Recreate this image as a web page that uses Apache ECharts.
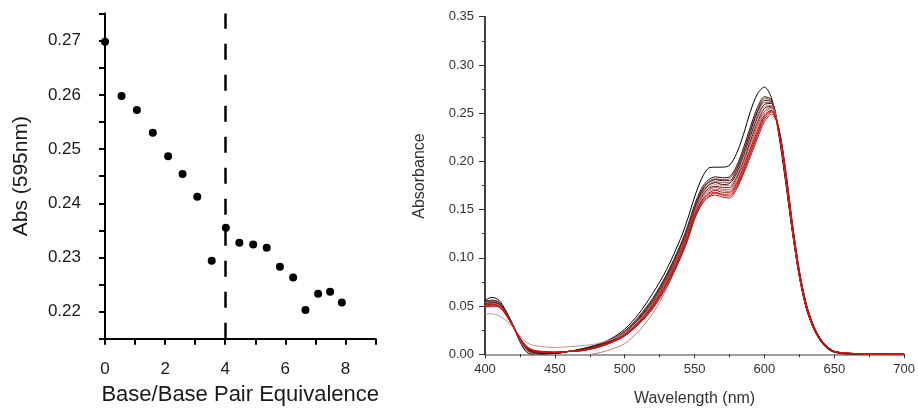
<!DOCTYPE html>
<html>
<head>
<meta charset="utf-8">
<script src="https://cdn.jsdelivr.net/npm/echarts@6/dist/echarts.min.js"></script>
<style>
html,body{margin:0;padding:0;background:#fff;}
#chart{width:918px;height:412px;}
</style>
</head>
<body>
<div id="chart"></div>
<script>
// ---- Left panel: Abs(595nm) vs equivalence ----
const equivalence = [0, 0.55, 1.06, 1.59, 2.1, 2.58, 3.07, 3.55, 4.02, 4.47, 4.93, 5.38, 5.82, 6.26, 6.67, 7.09, 7.49, 7.88];
const abs595 = [0.2698, 0.2598, 0.2572, 0.2530, 0.2487, 0.2454, 0.2412, 0.2294, 0.2355, 0.2327, 0.2324, 0.2318, 0.2283, 0.2263, 0.2203, 0.2233, 0.2237, 0.2217];
const equivalencePoint = 4;

// ---- Right panel: absorbance spectra ----
const wavelengths = [400,405,410,415,420,425,430,435,440,450,460,470,480,490,500,510,520,530,540,545,550,555,560,565,570,575,580,585,590,595,600,605,610,615,620,625,630,635,640,645,650,660,700];
const spec0  = [0.056,0.059,0.056,0.045,0.030,0.013,0.002,0.000,0.000,0.001,0.003,0.006,0.010,0.016,0.026,0.042,0.063,0.088,0.120,0.140,0.163,0.182,0.193,0.194,0.194,0.196,0.208,0.228,0.252,0.270,0.277,0.266,0.230,0.180,0.126,0.080,0.047,0.027,0.014,0.006,0.002,0.000,0.000];
const spec1  = [0.055,0.056,0.054,0.044,0.030,0.014,0.004,0.001,0.001,0.001,0.003,0.005,0.009,0.015,0.024,0.039,0.058,0.083,0.114,0.133,0.155,0.172,0.181,0.184,0.183,0.184,0.195,0.214,0.236,0.256,0.267,0.264,0.232,0.183,0.128,0.081,0.048,0.028,0.015,0.007,0.003,0.001,0.000];
const spec2  = [0.054,0.056,0.054,0.044,0.030,0.014,0.005,0.001,0.001,0.001,0.003,0.005,0.009,0.015,0.024,0.038,0.057,0.082,0.113,0.132,0.153,0.170,0.179,0.182,0.181,0.182,0.193,0.212,0.233,0.253,0.265,0.263,0.232,0.184,0.129,0.081,0.048,0.028,0.015,0.007,0.003,0.001,0.000];
const spec3  = [0.055,0.055,0.053,0.044,0.031,0.015,0.005,0.002,0.001,0.001,0.003,0.005,0.009,0.014,0.023,0.037,0.056,0.081,0.112,0.130,0.152,0.169,0.178,0.181,0.180,0.180,0.191,0.209,0.231,0.251,0.263,0.262,0.233,0.185,0.129,0.082,0.049,0.028,0.015,0.007,0.003,0.001,0.000];
const spec4  = [0.053,0.055,0.053,0.043,0.030,0.015,0.006,0.002,0.002,0.002,0.003,0.005,0.008,0.014,0.023,0.036,0.055,0.080,0.110,0.129,0.151,0.167,0.176,0.179,0.178,0.178,0.189,0.207,0.228,0.248,0.261,0.261,0.233,0.186,0.130,0.082,0.049,0.029,0.015,0.007,0.003,0.001,0.000];
const spec5  = [0.052,0.054,0.052,0.043,0.030,0.015,0.006,0.002,0.002,0.002,0.003,0.005,0.008,0.014,0.022,0.036,0.054,0.079,0.109,0.128,0.150,0.166,0.175,0.178,0.176,0.177,0.187,0.205,0.226,0.245,0.259,0.260,0.233,0.186,0.131,0.083,0.049,0.029,0.015,0.007,0.003,0.001,0.000];
const spec6  = [0.042,0.042,0.040,0.035,0.028,0.019,0.012,0.009,0.008,0.007,0.008,0.009,0.011,0.015,0.022,0.035,0.053,0.078,0.108,0.127,0.148,0.165,0.173,0.176,0.175,0.175,0.185,0.203,0.223,0.243,0.257,0.258,0.234,0.187,0.131,0.083,0.050,0.029,0.016,0.008,0.003,0.001,0.000];
const spec7  = [0.052,0.053,0.052,0.043,0.030,0.016,0.006,0.003,0.002,0.002,0.003,0.005,0.008,0.013,0.021,0.034,0.052,0.077,0.107,0.126,0.147,0.163,0.172,0.174,0.173,0.173,0.183,0.200,0.221,0.240,0.255,0.257,0.234,0.188,0.132,0.084,0.050,0.029,0.016,0.007,0.003,0.001,0.000];
const spec8  = [0.051,0.053,0.051,0.042,0.029,0.016,0.007,0.003,0.002,0.002,0.003,0.004,0.008,0.013,0.021,0.034,0.051,0.076,0.106,0.124,0.146,0.162,0.170,0.173,0.171,0.171,0.181,0.198,0.218,0.237,0.252,0.256,0.234,0.189,0.133,0.084,0.050,0.029,0.016,0.008,0.003,0.001,0.000];
const spec9  = [0.050,0.052,0.051,0.042,0.030,0.015,0.004,0.000,-0.001,-0.002,-0.002,-0.001,0.001,0.005,0.011,0.024,0.042,0.068,0.101,0.122,0.145,0.161,0.169,0.171,0.170,0.169,0.179,0.196,0.215,0.235,0.250,0.255,0.235,0.190,0.133,0.085,0.051,0.030,0.016,0.008,0.003,0.001,0.000];
const spec10 = [0.051,0.052,0.050,0.042,0.029,0.016,0.007,0.003,0.002,0.002,0.003,0.004,0.008,0.013,0.020,0.033,0.050,0.074,0.104,0.122,0.144,0.159,0.167,0.170,0.168,0.168,0.177,0.194,0.213,0.232,0.248,0.253,0.235,0.191,0.134,0.085,0.051,0.030,0.016,0.008,0.003,0.001,0.000];
const spec11 = [0.050,0.051,0.050,0.041,0.029,0.017,0.007,0.004,0.003,0.002,0.003,0.004,0.007,0.012,0.020,0.032,0.049,0.073,0.103,0.121,0.143,0.158,0.166,0.168,0.166,0.166,0.175,0.191,0.210,0.229,0.246,0.252,0.235,0.191,0.135,0.086,0.051,0.030,0.016,0.008,0.003,0.001,0.000];
const spec12 = [0.049,0.050,0.049,0.041,0.029,0.017,0.008,0.004,0.003,0.002,0.003,0.004,0.007,0.012,0.019,0.032,0.048,0.072,0.101,0.119,0.141,0.156,0.164,0.167,0.165,0.164,0.173,0.189,0.208,0.227,0.244,0.251,0.236,0.192,0.135,0.086,0.052,0.030,0.016,0.008,0.003,0.001,0.000];
const spec13 = [0.049,0.050,0.049,0.041,0.029,0.017,0.008,0.004,0.003,0.002,0.003,0.004,0.007,0.012,0.019,0.031,0.047,0.070,0.100,0.118,0.140,0.155,0.163,0.165,0.163,0.162,0.171,0.187,0.205,0.224,0.241,0.249,0.236,0.193,0.136,0.087,0.052,0.030,0.016,0.008,0.003,0.001,0.000];
const spectra = [spec0, spec1, spec2, spec3, spec4, spec5, spec6, spec7, spec8, spec9, spec10, spec11, spec12, spec13];

// styles (kept separate from data)
const spectrumColors = ['#000000','#2a0e0e','#6e4a4a','#3e0808','#946464','#5a0606','#c09090','#780a0a','#a46060','#b87c7c','#a00a0a','#c41414','#d60c0c','#e80000'];
const FONT = 'Liberation Sans, Arial, sans-serif';

const chart = echarts.init(document.getElementById('chart'), null, {renderer: 'canvas'});

const series = [{
  type: 'scatter',
  xAxisIndex: 0, yAxisIndex: 0,
  data: equivalence.map((x, i) => [x, abs595[i]]),
  symbolSize: 8,
  itemStyle: {color: '#000', opacity: 1},
  z: 3,
  markLine: {
    silent: true,
    symbol: 'none',
    label: {show: false},
    lineStyle: {color: '#000', width: 2.5, type: [16, 15], opacity: 1},
    data: [{xAxis: equivalencePoint}]
  }
}];
spectra.forEach((s, k) => {
  series.push({
    type: 'line',
    xAxisIndex: 1, yAxisIndex: 1,
    data: wavelengths.map((w, i) => [w, s[i]]),
    showSymbol: false,
    smooth: 0.3,
    lineStyle: {color: spectrumColors[k], width: 1},
    itemStyle: {color: spectrumColors[k]},
    z: 2 + k,
    silent: true
  });
});

chart.setOption({
  animation: false,
  backgroundColor: '#fff',
  textStyle: {fontFamily: FONT},
  grid: [
    {left: 105, top: 13.6, width: 270.5, height: 325.2},
    {left: 485, top: 16.7, width: 421.7, height: 337.6}
  ],
  graphic: [{
    type: 'text', x: 420, y: 176, rotation: Math.PI / 2,
    style: {text: 'Absorbance', fill: '#333', font: '16px Liberation Sans, Arial, sans-serif', align: 'center', verticalAlign: 'middle'}
  }],
  xAxis: [{
    gridIndex: 0, type: 'value', min: 0, max: 9, interval: 1,
    name: 'Base/Base Pair Equivalence', nameLocation: 'middle', nameGap: 45,
    nameTextStyle: {fontSize: 22, color: '#1a1a1a', fontFamily: FONT},
    axisLine: {show: true, onZero: false, lineStyle: {color: '#000', width: 2}},
    axisTick: {show: true, length: 6, lineStyle: {color: '#000', width: 2}},
    axisLabel: {fontSize: 17, color: '#1a1a1a', margin: 22, fontFamily: FONT,
      formatter: v => (Math.round(v) % 2 === 0 ? String(Math.round(v)) : '')},
    splitLine: {show: false}
  }, {
    gridIndex: 1, type: 'value', min: 400, max: 700, interval: 50,
    name: 'Wavelength (nm)', nameLocation: 'middle', nameGap: 36,
    nameTextStyle: {fontSize: 16, color: '#333', fontFamily: FONT},
    axisLine: {show: true, onZero: false, lineStyle: {color: '#808080', width: 1.5}},
    axisTick: {show: true, length: 4, lineStyle: {color: '#333', width: 1}},
    minorTick: {show: true, splitNumber: 2, length: 3, lineStyle: {color: '#333', width: 1}},
    axisLabel: {fontSize: 13, color: '#333', margin: 9, fontFamily: FONT},
    splitLine: {show: false}
  }],
  yAxis: [{
    gridIndex: 0, type: 'value', min: 0.215, max: 0.275, interval: 0.005,
    name: 'Abs (595nm)', nameLocation: 'middle', nameGap: 73, nameRotate: 90,
    nameTextStyle: {fontSize: 21, color: '#1a1a1a', fontFamily: FONT},
    axisLine: {show: true, onZero: false, lineStyle: {color: '#000', width: 2}},
    axisTick: {show: true, length: 6, lineStyle: {color: '#000', width: 2}},
    axisLabel: {fontSize: 17, color: '#1a1a1a', margin: 24, fontFamily: FONT, showMinLabel: true, showMaxLabel: true,
      formatter: v => (Math.abs(v * 100 - Math.round(v * 100)) < 1e-6 ? v.toFixed(2) : '')},
    splitLine: {show: false}
  }, {
    gridIndex: 1, type: 'value', min: 0, max: 0.35, interval: 0.05,
    axisLine: {show: true, onZero: false, lineStyle: {color: '#000', width: 1.5}},
    axisTick: {show: true, length: 6, lineStyle: {color: '#333', width: 1}},
    minorTick: {show: true, splitNumber: 2, length: 3, lineStyle: {color: '#333', width: 1}},
    axisLabel: {fontSize: 13, color: '#333', margin: 11, fontFamily: FONT,
      formatter: v => v.toFixed(2)},
    splitLine: {show: false}
  }],
  series: series
});
</script>
</body>
</html>
